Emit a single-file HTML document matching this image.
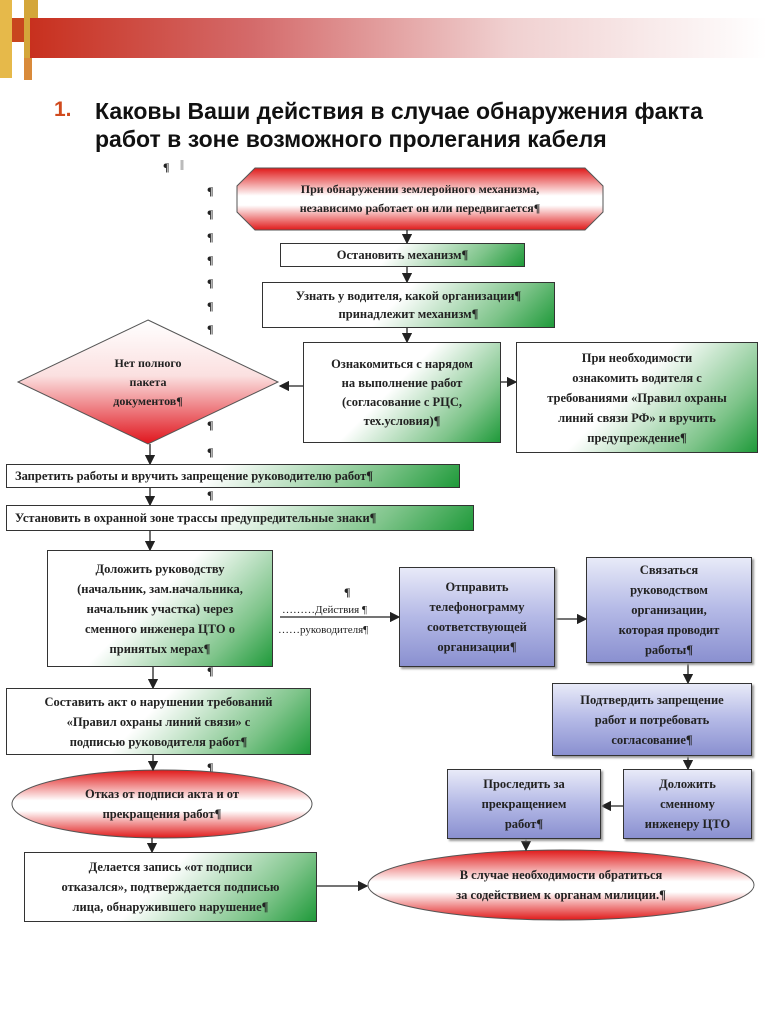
<!DOCTYPE html>
<html><head><meta charset="utf-8"><style>
body{margin:0;width:767px;height:1024px;background:#fff;position:relative;overflow:hidden;font-family:"Liberation Serif",serif}
.a{position:absolute}
.t{position:absolute;display:flex;align-items:center;justify-content:center;text-align:center;font-weight:bold;font-size:12.5px;line-height:19px;color:#222;box-sizing:border-box}
.g{border:1px solid #333;background:linear-gradient(135deg,#fff 0%,#fff 45%,#7ec48a 80%,#1f9a3a 100%)}
.b{border:1px solid #333;background:linear-gradient(180deg,#e8eaf8 0%,#b4b9e6 50%,#8a90d0 100%);box-shadow:2px 2px 2px #999}
.p{position:absolute;font:bold 12px "Liberation Serif",serif;color:#222}
</style></head><body>
<div class="a" style="left:0;top:0;width:12px;height:78px;background:#e6b94a"></div>
<div class="a" style="left:12px;top:18px;width:12px;height:24px;background:#c8461e"></div>
<div class="a" style="left:24px;top:0;width:14px;height:58px;background:#d4a63a"></div>
<div class="a" style="left:24px;top:58px;width:8px;height:22px;background:#d98a3a"></div>
<div class="a" style="left:30px;top:18px;width:737px;height:40px;background:linear-gradient(90deg,#c8301e 0%,#d46a6a 30%,#f0d0d0 65%,#fff 100%)"></div>
<div class="a" style="left:54px;top:98px;font:bold 21px 'Liberation Sans',sans-serif;color:#d04a1e">1.</div>
<div class="a" style="left:95px;top:97px;font:bold 23px/28px 'Liberation Sans',sans-serif;color:#111">Каковы Ваши действия в случае обнаружения факта<br>работ в зоне возможного пролегания кабеля</div>
<div class="p" style="left:163px;top:160px">¶</div>
<div class="p" style="left:207px;top:180px;line-height:23px">¶<br>¶<br>¶<br>¶<br>¶<br>¶<br>¶</div>
<div class="p" style="left:207px;top:418px">¶</div>
<div class="p" style="left:207px;top:445px">¶</div>
<div class="p" style="left:207px;top:488px">¶</div>
<div class="p" style="left:207px;top:664px">¶</div>
<div class="p" style="left:207px;top:760px">¶</div>
<svg class="a" style="left:0;top:0" width="767" height="1024">
<defs>
<linearGradient id="r" x1="0" y1="0" x2="0" y2="1"><stop offset="0" stop-color="#fff"/><stop offset=".45" stop-color="#fbe0e0"/><stop offset="1" stop-color="#e0141c"/></linearGradient>
<linearGradient id="r2" x1="0" y1="0" x2="0" y2="1"><stop offset="0" stop-color="#e01a1a"/><stop offset=".45" stop-color="#fff"/><stop offset=".6" stop-color="#fff"/><stop offset="1" stop-color="#e01a1a"/></linearGradient>
<marker id="m" markerWidth="8" markerHeight="8" refX="7" refY="4" orient="auto"><path d="M0,0L8,4L0,8z" fill="#222"/></marker>
</defs>
<polygon points="255,168 585,168 603,186 603,212 585,230 255,230 237,212 237,186" fill="url(#r2)" stroke="#555"/>
<polygon points="148,320 278,382 148,444 18,382" fill="url(#r)" stroke="#555"/>
<ellipse cx="162" cy="804" rx="150" ry="34" fill="url(#r2)" stroke="#555"/>
<ellipse cx="561" cy="885" rx="193" ry="35" fill="url(#r2)" stroke="#555"/>
<g stroke="#222" stroke-width="1.3" fill="none" marker-end="url(#m)">
<line x1="407" y1="230" x2="407" y2="243"/>
<line x1="407" y1="267" x2="407" y2="282"/>
<line x1="407" y1="328" x2="407" y2="342"/>
<line x1="303" y1="386" x2="280" y2="386"/>
<line x1="501" y1="382" x2="516" y2="382"/>
<line x1="150" y1="444" x2="150" y2="464"/>
<line x1="150" y1="488" x2="150" y2="505"/>
<line x1="150" y1="531" x2="150" y2="550"/>
<line x1="280" y1="617" x2="399" y2="617"/>
<line x1="555" y1="619" x2="586" y2="619"/>
<line x1="153" y1="667" x2="153" y2="688"/>
<line x1="153" y1="755" x2="153" y2="770"/>
<line x1="152" y1="838" x2="152" y2="852"/>
<line x1="688" y1="663" x2="688" y2="683"/>
<line x1="688" y1="756" x2="688" y2="769"/>
<line x1="623" y1="806" x2="602" y2="806"/>
<line x1="526" y1="839" x2="526" y2="850"/>
<line x1="317" y1="886" x2="367" y2="886"/>
</g>
<line x1="182" y1="160" x2="182" y2="170" stroke="#bbb" stroke-width="3"/>
</svg>
<div class="t" style="left:237px;top:168px;width:366px;height:62px;font-size:12px">При обнаружении землеройного механизма,<br>независимо работает он или передвигается¶</div>
<div class="t" style="left:18px;top:320px;width:260px;height:124px;font-size:12px">Нет полного<br>пакета<br>документов¶</div>
<div class="t g" style="left:280px;top:243px;width:245px;height:24px">Остановить механизм¶</div>
<div class="t g" style="left:262px;top:282px;width:293px;height:46px;line-height:18px">Узнать у водителя, какой организации¶<br>принадлежит механизм¶</div>
<div class="t g" style="left:303px;top:342px;width:198px;height:101px;line-height:19px">Ознакомиться с нарядом<br>на выполнение работ<br>(согласование с РЦС,<br>тех.условия)¶</div>
<div class="t g" style="left:516px;top:342px;width:242px;height:111px;line-height:20px">При необходимости<br>ознакомить водителя с<br>требованиями «Правил охраны<br>линий связи РФ» и вручить<br>предупреждение¶</div>
<div class="t g" style="left:6px;top:464px;width:454px;height:24px;justify-content:flex-start;padding-left:8px">Запретить работы и вручить запрещение руководителю работ¶</div>
<div class="t g" style="left:6px;top:505px;width:468px;height:26px;justify-content:flex-start;padding-left:8px">Установить в охранной зоне трассы предупредительные знаки¶</div>
<div class="t g" style="left:47px;top:550px;width:226px;height:117px;line-height:20px">Доложить руководству<br>(начальник, зам.начальника,<br>начальник участка) через<br>сменного инженера ЦТО о<br>принятых мерах¶</div>
<div class="p" style="left:282px;top:604px;font-weight:normal;font-size:11px">………Действия ¶</div>
<div class="p" style="left:278px;top:624px;font-weight:normal;font-size:11px">……руководителя¶</div>
<div class="p" style="left:344px;top:585px">¶</div>
<div class="t b" style="left:399px;top:567px;width:156px;height:100px;line-height:20px">Отправить<br>телефонограмму<br>соответствующей<br>организации¶</div>
<div class="t b" style="left:586px;top:557px;width:166px;height:106px;line-height:20px">Связаться<br>руководством<br>организации,<br>которая проводит<br>работы¶</div>
<div class="t g" style="left:6px;top:688px;width:305px;height:67px;line-height:20px">Составить акт о нарушении требований<br>«Правил охраны линий связи» с<br>подписью руководителя работ¶</div>
<div class="t b" style="left:552px;top:683px;width:200px;height:73px;line-height:20px">Подтвердить запрещение<br>работ и потребовать<br>согласование¶</div>
<div class="t" style="left:12px;top:770px;width:300px;height:68px;line-height:20px">Отказ от подписи акта и от<br>прекращения работ¶</div>
<div class="t b" style="left:447px;top:769px;width:154px;height:70px;line-height:20px">Проследить за<br>прекращением<br>работ¶</div>
<div class="t b" style="left:623px;top:769px;width:129px;height:70px;line-height:20px">Доложить<br>сменному<br>инженеру ЦТО</div>
<div class="t g" style="left:24px;top:852px;width:293px;height:70px;line-height:20px">Делается запись «от подписи<br>отказался», подтверждается подписью<br>лица, обнаружившего нарушение¶</div>
<div class="t" style="left:368px;top:850px;width:386px;height:70px;line-height:20px">В случае необходимости обратиться<br>за содействием к органам милиции.¶</div>
</body></html>
